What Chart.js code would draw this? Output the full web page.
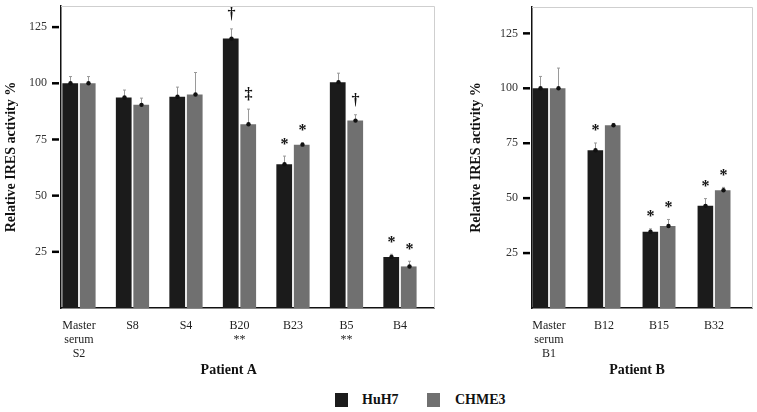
<!DOCTYPE html>
<html>
<head>
<meta charset="utf-8">
<script src="https://cdn.jsdelivr.net/npm/chart.js@4.4.1/dist/chart.umd.min.js"></script>
<style>
  body { margin: 0; background: #fff; width: 757px; height: 412px; position: relative; overflow: hidden; }
  #wrapA { position: absolute; left: 0; top: 0; width: 440px; height: 385px; }
  #wrapB { position: absolute; left: 450px; top: 0; width: 307px; height: 385px; }
  .legend { position: absolute; top: 393px; font: bold 14px "Liberation Serif", serif; color: #111; line-height: 14px; }
  .legend span.box { position: absolute; top: 0; width: 13px; height: 14px; }
</style>
</head>
<body>
<div id="wrapA"><canvas id="chartA"></canvas></div>
<div id="wrapB"><canvas id="chartB"></canvas></div>
<div class="legend" style="left:335px"><span class="box" style="left:0;background:#1b1b1b"></span><span style="position:absolute;left:27px">HuH7</span></div>
<div class="legend" style="left:427px"><span class="box" style="left:0;background:#707070"></span><span style="position:absolute;left:28px">CHME3</span></div>

<script>
// Patient A
const labelsA = [['Master', 'serum', 'S2'], 'S8', 'S4', ['B20', '**'], 'B23', ['B5', '**'], 'B4'];
const huh7A = [100, 93.7, 94, 119.9, 64, 100.5, 22.7];
const huh7ErrA = [3, 3.3, 4.3, 4.3, 3.6, 4, 1.2];
const chme3A = [100, 90.4, 95, 81.8, 72.7, 83.4, 18.5];
const chme3ErrA = [3, 3, 9.8, 6.7, 0.9, 2.6, 2.3];
const huh7MarkA = ['', '', '', '†', '*', '', '*'];
const chme3MarkA = ['', '', '', '‡', '*', '†', '*'];

// Patient B
const labelsB = [['Master', 'serum', 'B1'], 'B12', 'B15', 'B32'];
const huh7B = [100, 71.8, 34.7, 46.5];
const huh7ErrB = [5.4, 3.3, 1.3, 3.3];
const chme3B = [100, 83.2, 37.3, 53.6];
const chme3ErrB = [9.2, 0.8, 3, 1.3];
const huh7MarkB = ['', '*', '*', '*'];
const chme3MarkB = ['', '', '*', '*'];

const yTicks = [25, 50, 75, 100, 125];
const serif = '"Liberation Serif", "Times New Roman", serif';

// frame, error bars, mean dots, significance marks and group title
const extrasPlugin = {
    id: 'extras',
    beforeDatasetsDraw(chart) {
        const { ctx, chartArea } = chart;
        ctx.save();
        ctx.strokeStyle = '#cfcfcf';
        ctx.lineWidth = 1;
        ctx.beginPath();
        ctx.moveTo(chartArea.left, chartArea.top + 0.5);
        ctx.lineTo(chartArea.right + 0.5, chartArea.top + 0.5);
        ctx.lineTo(chartArea.right + 0.5, chartArea.bottom);
        ctx.stroke();
        ctx.restore();
    },
    afterDatasetsDraw(chart) {
        const { ctx } = chart;
        const yScale = chart.scales.y;
        ctx.save();
        chart.data.datasets.forEach((ds, i) => {
            const meta = chart.getDatasetMeta(i);
            meta.data.forEach((bar, j) => {
                const val = ds.data[j].y;
                const top = yScale.getPixelForValue(val + ds.errors[j]);
                const x = Math.round(bar.x) + 0.5;
                ctx.strokeStyle = '#9a9a9a';
                ctx.lineWidth = 1;
                ctx.beginPath();
                ctx.moveTo(x, bar.y);
                ctx.lineTo(x, top);
                ctx.moveTo(x - 1.5, top);
                ctx.lineTo(x + 1.5, top);
                ctx.stroke();
                ctx.fillStyle = '#111';
                ctx.beginPath();
                ctx.arc(x, bar.y, 2.2, 0, Math.PI * 2);
                ctx.fill();
                const mark = ds.marks[j];
                if (mark) {
                    ctx.font = 'bold 16px ' + serif;
                    ctx.textAlign = 'center';
                    ctx.textBaseline = 'alphabetic';
                    const m = ctx.measureText(mark);
                    const cy = top - 15;
                    ctx.fillText(mark, x, cy + (m.actualBoundingBoxAscent - m.actualBoundingBoxDescent) / 2);
                }
            });
        });
        ctx.restore();
    },
    afterDraw(chart) {
        const { ctx, chartArea } = chart;
        const yScale = chart.scales.y;
        const g = chart.options.plugins.extras;
        ctx.save();
        // short dashes left of the y axis
        ctx.strokeStyle = '#000';
        ctx.lineWidth = 2.5;
        yTicks.forEach((v) => {
            const y = yScale.getPixelForValue(v);
            ctx.beginPath();
            ctx.moveTo(chartArea.left - 9, y);
            ctx.lineTo(chartArea.left - 2, y);
            ctx.stroke();
        });
        ctx.fillStyle = '#111';
        ctx.font = 'bold 14px ' + serif;
        ctx.textAlign = 'center';
        ctx.textBaseline = 'middle';
        ctx.fillText(g.title, chart.scales.x.getPixelForValue(g.titleAt), chartArea.bottom + 62);
        ctx.restore();
    }
};

function makeChart(id, labels, huh7, huh7Err, huh7Mark, chme3, chme3Err, chme3Mark, opts) {
    const toPoints = (arr) => arr.map((v, i) => ({ x: i, y: v }));
    return new Chart(document.getElementById(id), {
        type: 'bar',
        data: {
            datasets: [{
                label: 'HuH7',
                data: toPoints(huh7),
                errors: huh7Err,
                marks: huh7Mark,
                backgroundColor: '#1b1b1b',
                categoryPercentage: opts.catPct,
                barPercentage: 0.9
            }, {
                label: 'CHME3',
                data: toPoints(chme3),
                errors: chme3Err,
                marks: chme3Mark,
                backgroundColor: '#707070',
                categoryPercentage: opts.catPct,
                barPercentage: 0.9
            }]
        },
        options: {
            responsive: true,
            maintainAspectRatio: false,
            animation: false,
            layout: { padding: opts.padding },
            plugins: {
                legend: { display: false },
                tooltip: { enabled: false },
                extras: { title: opts.title, titleAt: opts.titleAt }
            },
            scales: {
                x: {
                    type: 'linear',
                    offset: false,
                    min: opts.xMin,
                    max: opts.xMax,
                    afterBuildTicks: (scale) => { scale.ticks = labels.map((_, i) => ({ value: i })); },
                    afterFit: (scale) => { scale.height = 77; },
                    grid: { display: false, drawTicks: false, offset: false },
                    border: { display: true, color: '#111', width: 1.5 },
                    ticks: {
                        callback: (v) => labels[v],
                        maxRotation: 0,
                        autoSkip: false,
                        padding: 11,
                        color: '#222',
                        font: { family: serif, size: 12, lineHeight: 1.17 }
                    }
                },
                y: {
                    min: 0,
                    max: opts.yMax,
                    afterBuildTicks: (scale) => { scale.ticks = yTicks.map((v) => ({ value: v })); },
                    afterFit: (scale) => {
                        scale.width = opts.yWidth;
                        scale.paddingTop = 0;
                        scale.paddingBottom = 0;
                    },
                    grid: { display: false, drawTicks: false },
                    border: { display: true, color: '#111', width: 1.5 },
                    ticks: { padding: 14, color: '#333', font: { family: serif, size: 12 } },
                    title: {
                        display: true,
                        text: 'Relative IRES activity %',
                        color: '#111',
                        padding: { top: 3, bottom: 0 },
                        font: { family: serif, size: 14, weight: 'bold' }
                    }
                }
            }
        },
        plugins: [extrasPlugin]
    });
}

makeChart('chartA', labelsA, huh7A, huh7ErrA, huh7MarkA, chme3A, chme3ErrA, chme3MarkA, {
    catPct: 0.654, xMin: -0.336, xMax: 6.636, yMax: 134.4, yWidth: 61,
    padding: { top: 6, right: 6, left: 0, bottom: 0 },
    title: 'Patient A', titleAt: 2.8
});

makeChart('chartB', labelsB, huh7B, huh7ErrB, huh7MarkB, chme3B, chme3ErrB, chme3MarkB, {
    catPct: 0.63, xMin: -0.309, xMax: 3.69, yMax: 137, yWidth: 67,
    padding: { top: 7, right: 5, left: 15, bottom: 0 },
    title: 'Patient B', titleAt: 1.6
});
</script>
</body>
</html>
